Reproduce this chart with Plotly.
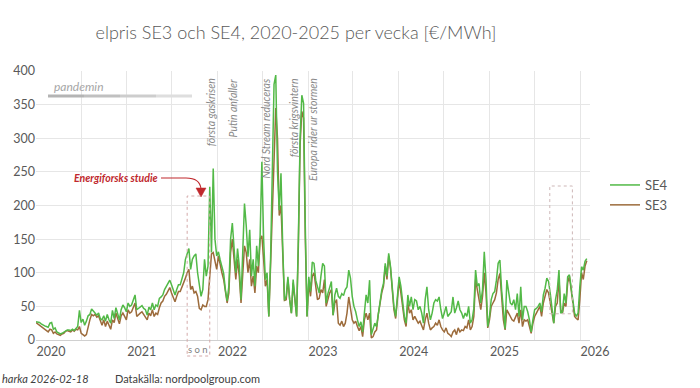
import pandas as pd
import plotly.graph_objects as go

# ---- data (weekly, €/MWh) ----
se4_2020 = [27,27,26,24,22,21,20,19,25,26,16,18,12,10,9,10,12,14,15,15,14,16,14,17,20,44,26,31,22,28,
            36,38,46,43,40,37,40,32,30,36,28,38,30,25,44,32,48,40,30,45,52,48,42]
se3_2020 = [26,24,22,20,18,16,14,12,16,15,10,12,9,8,7,9,10,13,14,13,12,15,13,16,15,20,10,8,6,8,
            20,30,38,36,38,34,36,28,22,30,20,28,22,16,30,26,40,32,24,36,40,35,30]
se4_2021 = [55,50,52,60,67,45,47,50,51,47,45,37,49,45,55,45,52,50,62,64,67,75,80,85,89,82,75,67,75,82,
            82,90,100,120,130,136,105,120,125,128,100,85,65,75,120,95,110,228,130,255,150,125]
se3_2021 = [45,40,42,50,55,35,38,40,42,38,36,30,40,36,45,35,40,38,48,55,58,65,68,72,78,70,62,57,65,72,
            72,78,85,92,100,105,75,80,70,72,65,47,45,52,50,50,60,100,128,130,115,105]
se4_2022 = [131,119,110,99,75,58,80,150,174,140,100,136,110,60,120,203,170,124,164,95,120,80,140,110,155,265,
            150,90,100,35,120,270,380,394,250,193,248,139,59,65,94,60,40,90,60,35,150,300,364,352,168,35]
se3_2022 = [125,110,100,90,70,55,70,130,150,125,90,120,95,55,100,140,130,100,120,80,95,70,110,100,150,155,
            120,80,90,35,110,190,280,345,300,185,200,130,59,60,90,60,40,85,60,35,140,290,340,330,150,35]
se4_2023 = [94,72,116,114,89,77,70,95,114,110,55,69,80,87,37,67,77,65,62,69,66,75,79,104,92,65,50,42,30,20,
            27,12,40,67,55,89,8,15,25,20,40,60,74,84,114,95,129,110,74,50,35,64]
se3_2023 = [85,65,95,100,80,60,62,75,70,90,50,60,70,75,37,55,60,25,22,28,20,25,40,64,50,30,25,28,20,14,
            20,5,30,40,30,40,3,5,12,15,38,58,70,80,110,90,125,108,70,45,32,60]
se4_2024 = [94,80,55,35,25,67,50,64,45,60,58,45,50,40,25,60,79,45,30,40,55,60,58,64,45,32,40,50,35,38,
            42,64,40,48,58,45,40,32,40,35,50,25,30,47,104,80,84,55,75,131,90,20,35]
se3_2024 = [88,70,45,30,20,55,40,45,30,35,30,25,28,22,15,30,40,25,15,18,20,25,22,30,20,15,12,18,10,8,
            5,12,15,8,18,12,15,14,20,18,30,15,20,35,90,75,60,45,65,100,70,18,30]
se4_2025 = [60,69,72,89,114,119,74,40,17,89,69,55,52,60,45,69,35,79,30,50,50,42,30,12,30,45,47,50,55,42,
            67,77,92,87,69,50,25,60,74,104,40,42,69,55,94,97,79,55,40,35,40,79,109,104,117,121]
se3_2025 = [50,55,60,70,90,99,60,30,15,45,40,35,30,28,35,40,25,45,20,30,28,30,20,10,25,35,40,45,50,35,
            55,65,75,70,55,40,25,50,55,90,45,40,55,50,85,95,75,50,35,32,30,60,100,90,110,118]

se4 = se4_2020 + se4_2021 + se4_2022 + se4_2023 + se4_2024 + se4_2025
se3 = se3_2020 + se3_2021 + se3_2022 + se3_2023 + se3_2024 + se3_2025
weeks = pd.date_range("2020-01-01", periods=len(se4), freq="7D")

events = [("första gaskrisen", "2021-12-06"),
          ("Putin anfaller", "2022-03-03"),
          ("Nord Stream reduceras", "2022-07-16"),
          ("första krigsvintern", "2022-11-03"),
          ("Europa rider ur stormen", "2023-01-21")]

GREEN = "#52B947"
BROWN = "#9C6B3B"
GRID = "#e6e6e6"
TXT = "#595959"
RED = "#C0282D"
FONT = "Lato"

# plot-area geometry helpers (pixel -> paper)
L, R, T, B = 36, 590, 71, 340
def px(x):
    return (x - L) / (R - L)
def py(y):
    return (B - y) / (B - T)

fig = go.Figure()
fig.add_trace(go.Scatter(x=weeks, y=se3, name="SE3", mode="lines",
                         line=dict(color=BROWN, width=1.5)))
fig.add_trace(go.Scatter(x=weeks, y=se4, name="SE4", mode="lines",
                         line=dict(color=GREEN, width=1.5)))

fig.update_layout(
    width=700, height=388,
    margin=dict(l=L, r=700 - R, t=T, b=388 - B),
    paper_bgcolor="white", plot_bgcolor="white",
    font=dict(family=FONT, color=TXT),
    title=dict(text="elpris SE3 och SE4, 2020-2025 per vecka [€/MWh]",
               x=296 / 700, xref="container", xanchor="center",
               y=1 - 33 / 388, yref="container", yanchor="middle",
               font=dict(family=FONT, size=18, color=TXT, weight=300)),
    showlegend=True,
    legend=dict(x=px(605), y=py(170), xanchor="left", yanchor="top",
                traceorder="reversed", font=dict(size=13, color=TXT),
                itemwidth=30, bgcolor="rgba(0,0,0,0)", tracegroupgap=0),
    xaxis=dict(type="date", range=["2020-01-01", "2026-02-10"],
               tick0="2020-01-01", dtick="M12", tickformat="%Y",
               showgrid=True, gridcolor=GRID, gridwidth=1,
               minor=dict(dtick="M6", showgrid=True, gridcolor=GRID),
               showline=True, linecolor="#d0d0d0", linewidth=1,
               ticks="", zeroline=False, ticklabelshift=15,
               tickfont=dict(size=12.5, color=TXT)),
    yaxis=dict(range=[0, 400], dtick=50, showgrid=True, gridcolor=GRID,
               zeroline=False, showline=False, ticks="",
               tickfont=dict(size=12.5, color=TXT)),
)

ann = []
for txt, d in events:
    ann.append(dict(text=txt, x=d, y=392, xref="x", yref="y", textangle=-90,
                    xanchor="center", yanchor="top", showarrow=False,
                    font=dict(size=10.5, color="#8a8a8a", style="italic")))
ann.append(dict(text="pandemin", x=px(52), y=py(87), xref="paper", yref="paper",
                xanchor="left", yanchor="middle", showarrow=False,
                font=dict(size=12, color="#a6a6a6", style="italic")))
ann.append(dict(text="<b><i>Energiforsks studie</i></b>", x=px(160), y=py(178),
                xref="paper", yref="paper", xanchor="right", yanchor="middle",
                showarrow=False, font=dict(size=10.5, color=RED)))
ann.append(dict(text="s o n", x="2021-10-16", y=py(349), xref="x", yref="paper",
                xanchor="center", yanchor="middle", showarrow=False,
                font=dict(size=9.5, color="#7f7f7f")))
ann.append(dict(text="<i>harka 2026-02-18</i>", x=px(0), y=py(378), xref="paper",
                yref="paper", xanchor="left", yanchor="middle", showarrow=False,
                font=dict(size=11, color="#404040")))
ann.append(dict(text="Datakälla: nordpoolgroup.com", x=px(113), y=py(378),
                xref="paper", yref="paper", xanchor="left", yanchor="middle",
                showarrow=False, font=dict(size=11, color="#404040")))
fig.update_layout(annotations=ann)

shapes = []
# pandemic bar (fading)
segs = [("#b4b4b4", 48, 84), ("#c0c0c0", 84, 120), ("#cdcdcd", 120, 156), ("#dedede", 156, 192)]
for c, a, b in segs:
    shapes.append(dict(type="line", xref="paper", yref="paper", x0=px(a), x1=px(b),
                       y0=py(96), y1=py(96), line=dict(color=c, width=3)))
# curved arrow
shapes.append(dict(type="path", xref="paper", yref="paper",
                   path=f"M {px(161)},{py(178)} L {px(186)},{py(178)} Q {px(200)},{py(178)} {px(201)},{py(189)}",
                   line=dict(color=RED, width=1.2)))
shapes.append(dict(type="path", xref="paper", yref="paper",
                   path=f"M {px(196)},{py(188)} L {px(206)},{py(188)} L {px(201)},{py(197)} Z",
                   fillcolor=RED, line=dict(color=RED, width=0.5)))
# dotted boxes
shapes.append(dict(type="rect", xref="x", yref="paper", x0="2021-09-01", x1="2021-12-01",
                   y0=py(356), y1=py(196), line=dict(color="#d4a9a9", width=1, dash="dot")))
shapes.append(dict(type="rect", xref="x", yref="y", x0="2025-09-01", x1="2025-12-01",
                   y0=39, y1=229, line=dict(color="#cdb7b7", width=1, dash="dot")))
fig.update_layout(shapes=shapes)

fig.write_html("out.html")
